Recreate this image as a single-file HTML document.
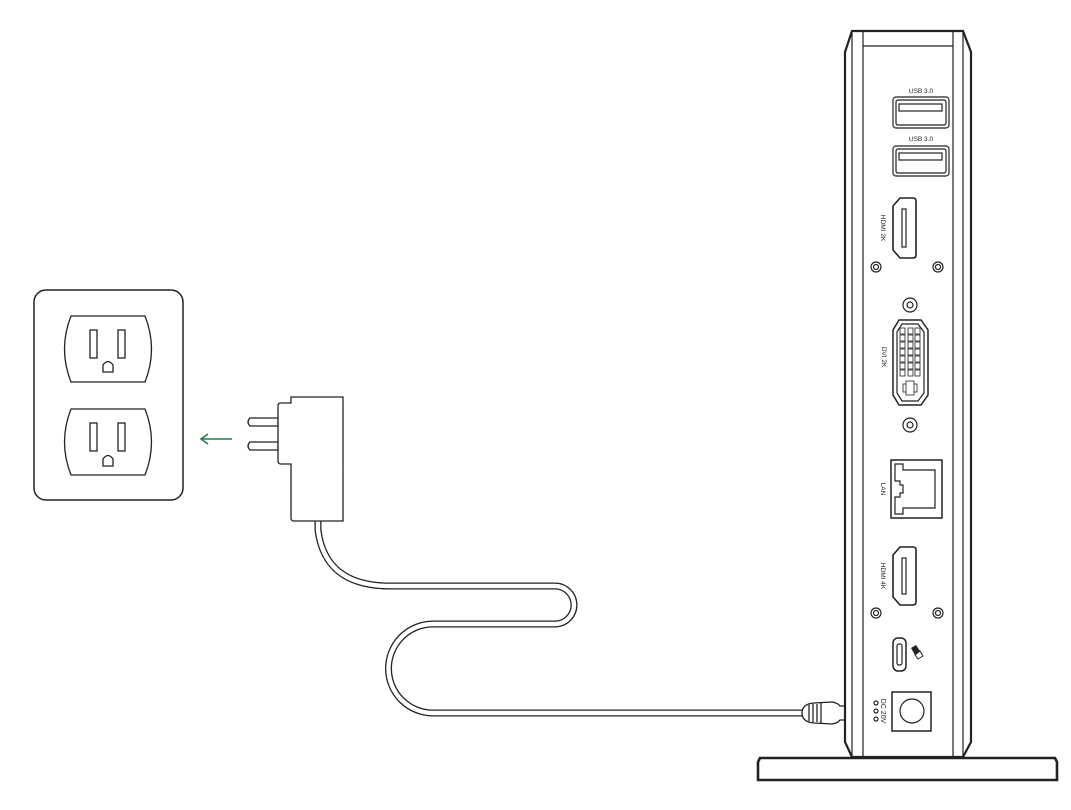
<!DOCTYPE html>
<html><head><meta charset="utf-8"><style>
html,body{margin:0;padding:0;background:#fff;}
svg{display:block;}
text{font-family:"Liberation Sans",sans-serif;fill:#222;}
</style></head><body>
<svg width="1071" height="810" viewBox="0 0 1071 810" xmlns="http://www.w3.org/2000/svg">
<g fill="none" stroke="#222" stroke-width="1.3">
<rect x="34" y="290" width="149" height="210" rx="12" stroke-width="1.5"/>
<path d="M71,316 L145,316 Q158,349 145,382 L71,382 Q58,349 71,316 Z"/>
<path d="M71,409 L145,409 Q158,442 145,475 L71,475 Q58,442 71,409 Z"/>
<rect x="90" y="330" width="7" height="28"/><rect x="118" y="330" width="7" height="28"/>
<path d="M103,372 L103,365 Q108,358 113,365 L113,372 Z"/>
<rect x="90" y="423" width="7" height="28"/><rect x="118" y="423" width="7" height="28"/>
<path d="M103,466 L103,459 Q108,452 113,459 L113,466 Z"/>
</g>
<g stroke="#1f7a4f" stroke-width="1.5" fill="none">
<line x1="232" y1="439" x2="201" y2="439"/><path d="M208,434 L201,439 L208,444"/>
</g>
<path d="M318,521 L318,530 Q325,586 390,586 L555,586 A19,19 0 0 1 555,624 L433,624 A44.5,44.5 0 0 0 433,713 L805,713" fill="none" stroke="#222" stroke-width="7"/>
<path d="M318,521 L318,530 Q325,586 390,586 L555,586 A19,19 0 0 1 555,624 L433,624 A44.5,44.5 0 0 0 433,713 L805,713" fill="none" stroke="#fff" stroke-width="4.4"/>
<g fill="#fff" stroke="#222" stroke-width="1.3">
<path d="M250,418 L278,418 L278,426 L250,426 Q246,422 250,418 Z"/>
<path d="M250,442 L278,442 L278,450 L250,450 Q246,446 250,442 Z"/>
<path d="M291,397 L343,397 L343,521 L294,521 Q291,521 291,518 L291,464 L281,464 Q278,464 278,461 L278,406 Q278,403 281,403 L291,403 Z"/>
</g>
<g fill="#fff" stroke="#222" stroke-width="1.3">
<path d="M802,713 Q802,704 814,703 L832,702 Q838,703 840,706 L862,706 L862,720 L840,720 Q838,723 832,724 L814,723 Q802,722 802,713 Z"/>
<line x1="809" y1="705" x2="809" y2="721"/><line x1="813" y1="704" x2="813" y2="722"/><line x1="817" y1="704" x2="817" y2="722"/><line x1="821" y1="703" x2="821" y2="723"/>
<rect x="860" y="708" width="6" height="10" rx="2"/>
</g>
<g fill="#fff" stroke="#222" stroke-width="1.6">
<path d="M760,758 L1055,758 L1057,762 L1057,780 L758,780 L758,762 Z" stroke-width="2.6"/>
<path d="M852,31 L963,31 L971,52 L971,742 L963,757 L852,757 L845,742 L845,52 Z" stroke-width="2.2"/>
</g>
<g fill="none" stroke="#222" stroke-width="1.2">
<line x1="852" y1="33" x2="852" y2="757"/><line x1="963" y1="33" x2="963" y2="757"/>
<line x1="863" y1="31" x2="863" y2="757"/><line x1="953" y1="31" x2="953" y2="757"/>
<line x1="863" y1="46" x2="953" y2="46"/>
<rect x="893" y="97" width="56" height="31" rx="3"/><rect x="896" y="100" width="50" height="25" rx="2"/>
<rect x="899" y="104" width="43" height="7"/>
<rect x="893" y="146" width="56" height="30" rx="3"/><rect x="896" y="149" width="50" height="24" rx="2"/>
<rect x="899" y="153" width="43" height="7"/>
<path d="M900,198 L913,198 Q916,198 916,201 L916,255 Q916,258 913,258 L900,258 L893,250 L893,206 Z" stroke-width="1.6"/>
<rect x="902" y="209" width="4" height="38"/>
<circle cx="876" cy="267" r="5"/><circle cx="876" cy="267" r="2.5"/>
<circle cx="938" cy="267" r="5"/><circle cx="938" cy="267" r="2.5"/>
<circle cx="910" cy="305" r="7"/><circle cx="910" cy="305" r="3"/>
<path d="M899,320 L921,320 L928,330 L928,395 L921,405 L899,405 L893,395 L893,330 Z" stroke-width="1.5"/>
<path d="M902,324 L918,324 L924,332 L924,393 L918,401 L902,401 L897,393 L897,332 Z"/>
<circle cx="910" cy="425" r="7"/><circle cx="910" cy="425" r="3"/>
<path d="M903,388 h14 M910,381 v14"/>
</g>
<g fill="#fff" stroke="#222" stroke-width="0.8">
<rect x="900" y="328" width="5" height="6"/><rect x="908" y="328" width="5" height="6"/><rect x="915" y="328" width="5" height="6"/>
<rect x="900" y="335" width="5" height="6"/><rect x="908" y="335" width="5" height="6"/><rect x="915" y="335" width="5" height="6"/>
<rect x="900" y="342" width="5" height="6"/><rect x="908" y="342" width="5" height="6"/><rect x="915" y="342" width="5" height="6"/>
<rect x="900" y="349" width="5" height="6"/><rect x="908" y="349" width="5" height="6"/><rect x="915" y="349" width="5" height="6"/>
<rect x="900" y="356" width="5" height="6"/><rect x="908" y="356" width="5" height="6"/><rect x="915" y="356" width="5" height="6"/>
<rect x="900" y="363" width="5" height="6"/><rect x="908" y="363" width="5" height="6"/><rect x="915" y="363" width="5" height="6"/>
<rect x="900" y="370" width="5" height="6"/><rect x="908" y="370" width="5" height="6"/><rect x="915" y="370" width="5" height="6"/>
<rect x="903" y="384" width="14" height="8"/><rect x="906" y="381" width="8" height="14"/>
</g>
<g fill="none" stroke="#222" stroke-width="1.2">
<rect x="891" y="460" width="51" height="58" stroke-width="1.5"/>
<path d="M895,464 L903,464 L903,470 L935,470 L935,508 L903,508 L903,514 L895,514 L895,497 L900,497 L900,493 L903,493 L903,485 L900,485 L900,481 L895,481 Z"/>
<path d="M900,547 L913,547 Q916,547 916,550 L916,602 Q916,605 913,605 L900,605 L893,597 L893,555 Z" stroke-width="1.6"/>
<rect x="902" y="558" width="4" height="36"/>
<circle cx="876" cy="613" r="5"/><circle cx="876" cy="613" r="2.5"/>
<circle cx="938" cy="613" r="5"/><circle cx="938" cy="613" r="2.5"/>
<rect x="893" y="638" width="13" height="33" rx="5" stroke-width="1.5"/>
<rect x="897" y="644" width="5" height="21" rx="2"/>
<rect x="892" y="692" width="39" height="39" stroke-width="1.5"/>
<circle cx="912" cy="711" r="12"/>
<circle cx="876" cy="703" r="2"/><circle cx="876" cy="711" r="2"/><circle cx="876" cy="719" r="2"/>
</g>
<path d="M911,648 L916,645 L920,651 L915,655 Z" fill="#222"/>
<path d="M915,655 L920,651 L923,656 L918,659 Z" fill="#fff" stroke="#222" stroke-width="1"/>
<g font-size="6.5" text-anchor="middle">
<text x="921" y="93">USB 3.0</text>
<text x="921" y="141">USB 3.0</text>
<text transform="translate(881,228) rotate(90)">HDMI 2K</text>
<text transform="translate(882,357) rotate(90)">DVI 2K</text>
<text transform="translate(881,489) rotate(90)">LAN</text>
<text transform="translate(881,576) rotate(90)">HDMI 4K</text>
<text transform="translate(881,711) rotate(90)" font-size="7">DC 20V</text>
</g>
</svg>
</body></html>
